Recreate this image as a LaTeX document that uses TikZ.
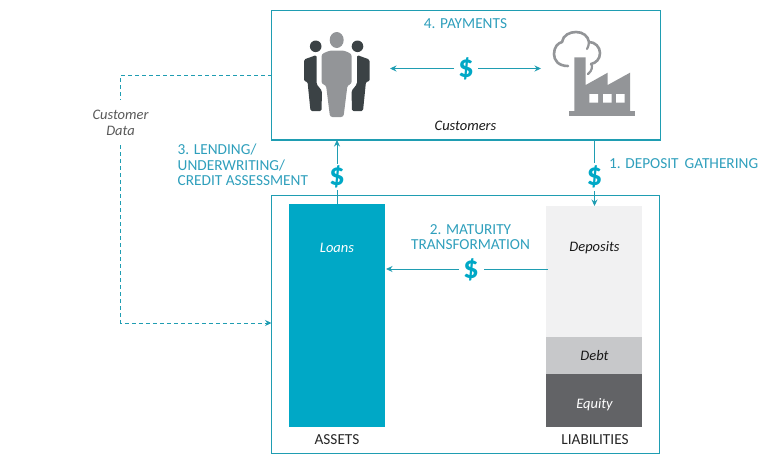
\documentclass[tikz,border=0pt]{standalone}
\usepackage{fontspec}
\setmainfont{Carlito}
\newfontfamily\moneyfont{Lato Black}
\usetikzlibrary{arrows.meta}
\definecolor{tealline}{HTML}{1F9DB2}
\definecolor{tealtext}{HTML}{2F9FBC}
\definecolor{tealfill}{HTML}{00A8C6}
\definecolor{iconlight}{HTML}{939598}
\definecolor{icondark}{HTML}{3B4245}
\definecolor{depfill}{HTML}{F1F1F2}
\definecolor{debtfill}{HTML}{C7C8CA}
\definecolor{eqfill}{HTML}{626366}
\tikzset{
  frame/.style={inner sep=0,outer sep=0,anchor=north west},
  frameline/.style={draw=tealline,line width=1.1pt},
  bar/.style={inner sep=0,outer sep=0,anchor=north west,minimum width=96pt,text width=96pt,align=center},
  flow/.style={draw=tealline,line width=0.9pt,-{Stealth[length=6.5pt,width=6pt]}},
  plainflow/.style={draw=tealline,line width=0.9pt},
  dashflow/.style={draw=tealline,line width=0.9pt,dash pattern=on 4pt off 3pt},
  money/.style={text=tealfill,font=\fontsize{24}{26}\moneyfont\selectfont,inner sep=0,outer sep=0},
  steplabel/.style={text=tealtext,font=\fontsize{15.3}{15.6}\selectfont,inner sep=0,align=left},
  italiclabel/.style={font=\fontsize{14.5}{16}\selectfont\itshape,inner sep=0,align=center},
  caption/.style={font=\fontsize{15.3}{15}\selectfont,inner sep=0,text=black!85},
}
\begin{document}
\begin{tikzpicture}[x=1pt,y=-1pt]
\useasboundingbox (0,0) rectangle (767,464);
% frames
\node[frame,minimum width=389pt,minimum height=129.5pt] (top) at (271.5,10.5) {};
\node[frame,minimum width=388pt,minimum height=258pt] (lower) at (271.5,195.5) {};
\draw[frameline] (top.north west) rectangle (top.south east);
\draw[frameline] (lower.north west) rectangle (lower.south east);
% bars
\node[bar,fill=tealfill,minimum height=223pt] (loans) at (289,204) {};
\node[bar,fill=depfill,minimum height=131pt] (deposits) at (546,206) {};
\node[bar,fill=debtfill,minimum height=37pt] (debt) at (546,337) {};
\node[bar,fill=eqfill,minimum height=53pt] (equity) at (546,374) {};
% bar labels
\node[italiclabel,text=white] (loanstxt) at (337,248) {Loans};
\node[italiclabel,text=black!90] (depositstxt) at (594.5,248) {Deposits};
\node[italiclabel,text=black!90] (debttxt) at (594.5,356) {Debt};
\node[italiclabel,text=white] (equitytxt) at (594.5,404.5) {Equity};
\node[caption] (assets) at (337,440) {ASSETS};
\node[caption] (liab) at (595,440) {LIABILITIES};
\node[italiclabel,text=black!90] (customers) at (465.5,126) {Customers};
% step labels
\node[steplabel,anchor=center] (s4) at (465.5,24) {4. PAYMENTS};
\node[steplabel,anchor=west] (s3) at (177.5,165) {3. LENDING/\\UNDERWRITING/\\CREDIT ASSESSMENT};
\node[steplabel,anchor=west] (s1) at (609,164) {1. DEPOSIT\, GATHERING};
\node[steplabel,align=center] (s2) at (470.5,237) {2. MATURITY\\TRANSFORMATION};
\node[italiclabel,text=black!65,inner ysep=10pt] (cdata) at (120.5,122.5) {Customer\\Data};
% dollar signs
\node[money,minimum height=26pt,minimum width=24pt] (d4) at (466,69) {\$};
\node[money,minimum height=26pt] (d3) at (337,177) {\$};
\node[money,minimum height=28pt] (d1) at (594.5,177) {\$};
\node[money,minimum height=24pt,minimum width=25pt] (d2) at (471,270) {\$};
% connectors
\coordinate (peopleR) at (390,68.5);
\coordinate (factL) at (541,68.5);
\draw[flow] (d4.west |- peopleR) -- (peopleR);
\draw[flow] (d4.east |- factL) -- (factL);
\draw[plainflow] (d1 |- top.south) -- (d1.north);
\draw[flow] (d1.south) -- (d1 |- deposits.north);
\draw[plainflow] (d3 |- loans.north) -- (d3.south);
\draw[flow] (d3.north) -- (d3 |- top.south);
\coordinate (matY) at (0,269);
\draw[plainflow] (deposits.west |- matY) ++(2,0) -- (d2.east |- matY);
\draw[flow] (d2.west |- matY) -- ([xshift=1pt]loans.east |- matY);
\coordinate (dashTop) at (120.5,75);
\coordinate (dashBot) at (120.5,323);
\draw[dashflow] (top.west |- dashTop) -- (dashTop) -- (cdata.north -| dashTop);
\draw[dashflow,-{Stealth[length=6.5pt,width=6pt]}] (cdata.south -| dashBot) -- (dashBot) -- (lower.west |- dashBot);
% people icon
\fill[icondark] (315.7,46.3) circle (5.8);
\fill[icondark] (357.5,46.3) circle (5.8);
\fill[icondark,rounded corners=1.5pt] (304,59.5) -- (316.5,55) -- (316.5,84) -- (322,91) -- (321.5,111) -- (310.5,111) -- (307.5,81.5) -- (304,81.5) -- cycle;
\fill[icondark,rounded corners=1.5pt] (369.5,59.5) -- (357,55) -- (357,84) -- (351.5,91) -- (352,111) -- (363,111) -- (366,81.5) -- (369.5,81.5) -- cycle;
\fill[iconlight] (336.7,40) ellipse (7 and 8);
\fill[iconlight,rounded corners=2.5pt] (321.5,54) -- (330,50.5) -- (344,50.5) -- (351.7,54) -- (351.7,84) -- (347.5,85) -- (343.5,117) -- (330,117) -- (326,85) -- (321.5,84) -- cycle;
% factory icon
\fill[iconlight] (569,111) rectangle (635,116);
\fill[iconlight] (574.3,111) -- (574.3,57.3) -- (585.7,57.3) -- (585.7,85) -- (607.7,72.7) -- (607.7,85) -- (630,72.7) -- (630,111) -- cycle;
\fill[white] (589.3,94) rectangle (598,102.7) (603,94) rectangle (611.5,102.7) (616,94) rectangle (624.5,102.7);
\draw[iconlight,line width=2.6pt,line cap=round]
  (568,66) .. controls (558,66) and (554,60) .. (554,54)
  .. controls (554,47) and (558,43) .. (562,42)
  .. controls (563,35) and (570,32) .. (576,32)
  .. controls (583,32) and (588,36) .. (589,42)
  .. controls (595,42) and (600,47) .. (600,53)
  .. controls (600,59) and (596,63) .. (591,64);
\draw[iconlight,line width=2.2pt,line cap=round]
  (589,42) .. controls (589,45) and (588,47) .. (587,49)
  (591,64) .. controls (593,66) and (592,71) .. (588,74);
\end{tikzpicture}
\end{document}
